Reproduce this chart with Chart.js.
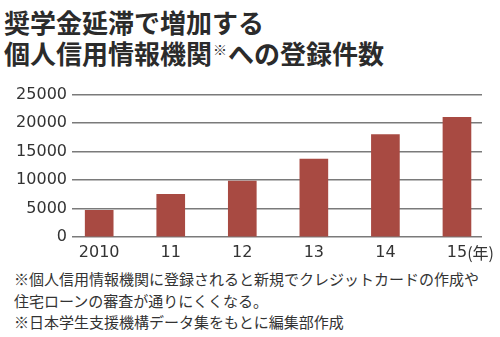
<!DOCTYPE html>
<html lang="ja">
<head>
    <meta charset="UTF-8" />
    <title>奨学金延滞で増加する個人信用情報機関への登録件数</title>
    <script src="https://cdn.jsdelivr.net/npm/chart.js"></script>
    <style>
        body {
            margin: 0;
            width: 500px;
            height: 337px;
            background: #fff;
            position: relative;
            overflow: hidden;
            font-family: 'Noto Sans CJK JP', sans-serif;
            color: #2b2b2b;
        }

        .title {
            position: absolute;
            left: 4px;
            top: 6px;
            font-size: 26px;
            font-weight: bold;
            line-height: 31px;
            white-space: nowrap;
        }

        .title sup {
            font-size: 14px;
            font-weight: normal;
            vertical-align: top;
            position: relative;
            top: -3px;
            margin: 0 1px;
        }

        .chart-box {
            position: absolute;
            left: 0;
            top: 80px;
            width: 500px;
            height: 186px;
        }

        .notes {
            position: absolute;
            left: 14px;
            top: 268px;
            font-size: 15px;
            line-height: 21.5px;
            color: #333;
            white-space: nowrap;
        }
    </style>
</head>
<body>

<div class="title">
    奨学金延滞で増加する<br>
    個人信用情報機関<sup>※</sup>への登録件数
</div>

<div class="chart-box">
    <canvas id="loanChart" width="500" height="186"></canvas>
</div>

<div class="notes">
    ※個人信用情報機関に登録されると新規でクレジットカードの作成や<br>
    住宅ローンの審査が通りにくくなる。<br>
    ※日本学生支援機構データ集をもとに編集部作成
</div>

<script>
    const years = ['2010', '11', '12', '13', '14', '15'];
    const registrations = [4700, 7500, 9800, 13700, 18000, 21000];
    const yTicks = [0, 5000, 10000, 15000, 20000, 25000];

    const tickFont = { family: 'DejaVu Sans', size: 16 };
    const textColor = '#333';

    // 「(年)」 drawn just after the last year label
    const yearUnit = {
        id: 'yearUnit',
        afterDraw(chart) {
            const ctx = chart.ctx;
            const xs = chart.scales.x;
            const last = years.length - 1;
            ctx.save();
            ctx.font = tickFont.size + 'px ' + tickFont.family;
            const w = ctx.measureText(years[last]).width;
            ctx.fillStyle = textColor;
            ctx.font = "16px 'Noto Sans CJK JP', sans-serif";
            ctx.textBaseline = 'middle';
            ctx.fillText('(年)', xs.getPixelForValue(last) + w / 2, chart.chartArea.bottom + 15.5);
            ctx.restore();
        }
    };

    new Chart(document.getElementById('loanChart'), {
        type: 'bar',
        data: {
            datasets: [{
                data: registrations.map((v, i) => ({ x: i, y: v })),
                backgroundColor: '#a84a42',
                barThickness: 28
            }]
        },
        options: {
            responsive: false,
            animation: false,
            layout: { padding: { top: 13, right: 18, bottom: 0, left: 0 } },
            plugins: {
                legend: { display: false },
                tooltip: { enabled: false }
            },
            scales: {
                x: {
                    type: 'linear',
                    offset: false,
                    min: -0.38,
                    max: 5.35,
                    grid: { display: false, drawTicks: false },
                    border: { display: false },
                    afterBuildTicks(scale) {
                        scale.ticks = years.map((_, i) => ({ value: i }));
                    },
                    afterFit(scale) { scale.height = 29; },
                    ticks: {
                        autoSkip: false,
                        maxRotation: 0,
                        padding: 6,
                        color: textColor,
                        font: tickFont,
                        callback: (v) => years[v]
                    }
                },
                y: {
                    min: 0,
                    max: 25000,
                    afterBuildTicks(scale) {
                        scale.ticks = yTicks.map(v => ({ value: v }));
                    },
                    afterFit(scale) { scale.width = 72; },
                    grid: {
                        color: '#7a7a7a',
                        lineWidth: 1.5,
                        drawTicks: false
                    },
                    border: { display: false },
                    ticks: {
                        padding: 5,
                        color: textColor,
                        font: tickFont,
                        callback: (v) => String(v)
                    }
                }
            }
        },
        plugins: [yearUnit]
    });
</script>

</body>
</html>
